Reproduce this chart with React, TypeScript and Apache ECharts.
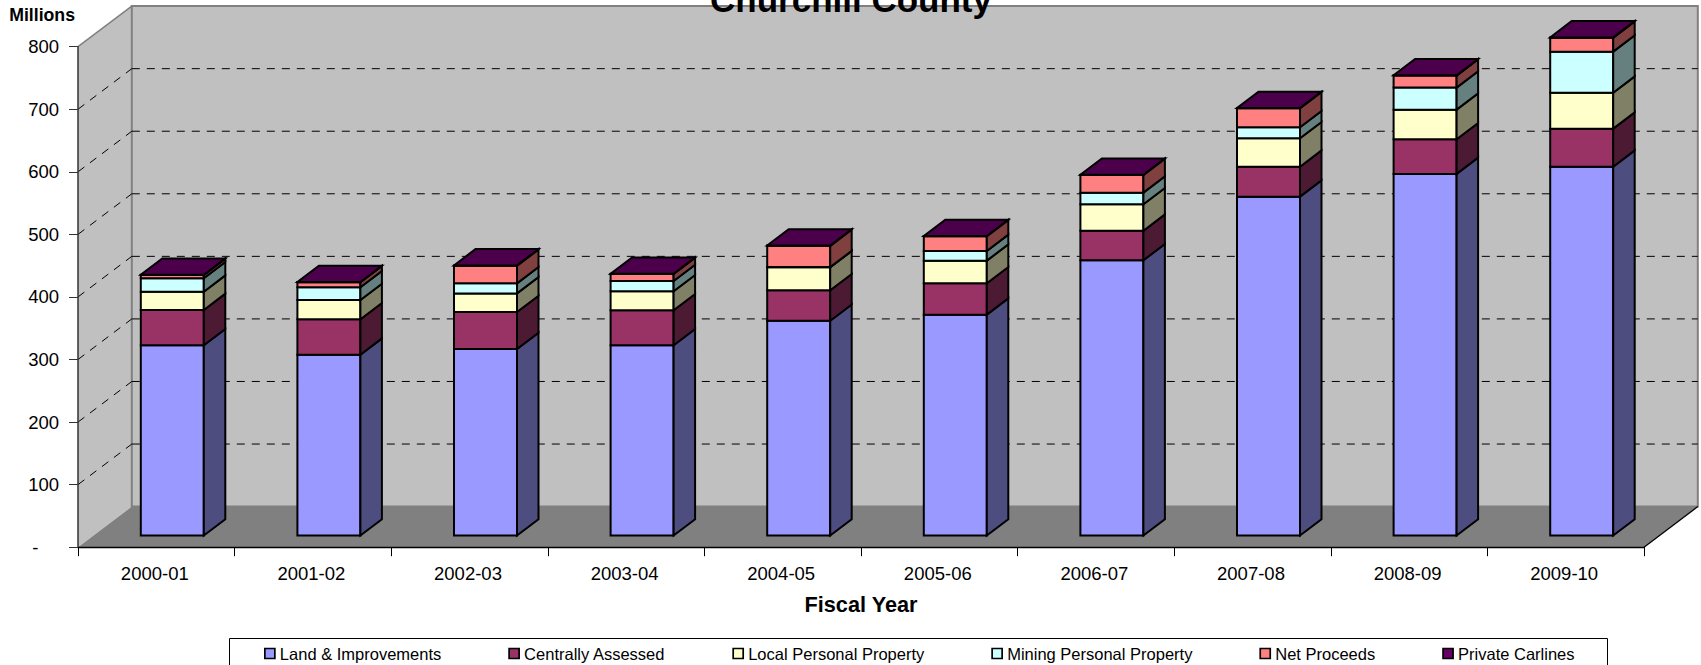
import React, { useEffect, useRef } from "react";
import * as echarts from "echarts";

const categories = ["2000-01","2001-02","2002-03","2003-04","2004-05","2005-06","2006-07","2007-08","2008-09","2009-10"];
const landImprovements = [304, 289, 298, 304, 343.3, 353, 440, 541.6, 578, 589.5];
const centrallyAssessed = [56.5, 56.6, 59.2, 56, 48.7, 50.1, 47.2, 47.9, 55.4, 60.8];
const localPersonal = [29.2, 30.8, 29.8, 30.3, 36.7, 36.2, 42.2, 45.4, 47.3, 57.5];
const miningPersonal = [21.4, 20.3, 16, 16.5, 0.3, 15.5, 18.6, 17.6, 35.2, 65.6];
const netProceeds = [5.3, 8, 28.2, 11.2, 34, 23.5, 28.2, 30.4, 19.2, 22.3];
const privateCarlines = [0.5, 0.5, 0.5, 0.5, 0.5, 0.5, 0.5, 0.5, 0.5, 0.5];
const yTicks = [0, 100, 200, 300, 400, 500, 600, 700, 800];

const seriesDefs = [
  { name: "Land & Improvements", values: landImprovements, color: "#9999FF", side: "#4D4D80", top: "#7373BF" },
  { name: "Centrally Assessed", values: centrallyAssessed, color: "#993366", side: "#4D1A33", top: "#73264C" },
  { name: "Local Personal Property", values: localPersonal, color: "#FFFFCC", side: "#808066", top: "#BFBF99" },
  { name: "Mining Personal Property", values: miningPersonal, color: "#CCFFFF", side: "#668080", top: "#99BFBF" },
  { name: "Net Proceeds", values: netProceeds, color: "#FF8080", side: "#804040", top: "#BF6060" },
  { name: "Private Carlines", values: privateCarlines, color: "#660066", side: "#330033", top: "#4C004C" },
];

const FONT = "'Liberation Sans', Arial, sans-serif";
const WALL_DX = 53.8;
const WALL_DY = 40.6;
const BAR_DX = 16;
const BAR_DY = 11.7;
const BAR_W = 63;
const DEPTH_X = 21.5;
const DEPTH_Y = 16.3;
const EDGE = 2;

export default function App() {
  const ref = useRef<HTMLDivElement>(null);
  useEffect(() => {
    document.body.style.margin = "0";
    document.body.style.overflow = "hidden";
    const chart = echarts.init(ref.current!, null, { renderer: "svg" });

    const background = {
      type: "custom",
      silent: true,
      z: 1,
      clip: false,
      data: [[0, 0]],
      encode: { x: 0, y: 1 },
      renderItem: (params: any, api: any) => {
        const cs = params.coordSys;
        const x0 = cs.x, x1 = cs.x + cs.width, y0 = cs.y + cs.height, yT = cs.y;
        const children: any[] = [
          { type: "polygon", shape: { points: [[x0, yT], [x0 + WALL_DX, yT - WALL_DY], [x0 + WALL_DX, y0 - WALL_DY], [x0, y0]] },
            style: { fill: "#C0C0C0", stroke: "none" } },
          { type: "line", shape: { x1: x0, y1: yT, x2: x0 + WALL_DX, y2: yT - WALL_DY }, style: { stroke: "#808080", lineWidth: 1.5 } },
          { type: "rect", shape: { x: x0 + WALL_DX, y: yT - WALL_DY, width: cs.width, height: cs.height },
            style: { fill: "#C0C0C0", stroke: "#808080", lineWidth: 2 } },
          { type: "polygon", shape: { points: [[x0, y0], [x1, y0], [x1 + WALL_DX, y0 - WALL_DY], [x0 + WALL_DX, y0 - WALL_DY]] },
            style: { fill: "#808080", stroke: "none" } },
          { type: "line", shape: { x1: x1, y1: y0, x2: x1 + WALL_DX, y2: y0 - WALL_DY }, style: { stroke: "#000", lineWidth: 1.3 } },
        ];
        yTicks.filter((v) => v > 0 && v < 800).forEach((v) => {
          const y = api.coord([0, v])[1];
          const dash = { stroke: "#000", lineWidth: 1, lineDash: [8, 7] };
          children.push({ type: "line", shape: { x1: x0, y1: y, x2: x0 + WALL_DX, y2: y - WALL_DY }, style: dash });
          children.push({ type: "line", shape: { x1: x0 + WALL_DX, y1: y - WALL_DY, x2: x1 + WALL_DX, y2: y - WALL_DY }, style: dash });
        });
        return { type: "group", children };
      },
    };

    const running = categories.map(() => 0);
    const barSeries = seriesDefs.map((def, sIdx) => {
      const data = def.values.map((v, i) => {
        const base = running[i];
        running[i] = base + v;
        return [i, base, running[i]];
      });
      const isLast = sIdx === seriesDefs.length - 1;
      return {
        type: "custom",
        name: def.name,
        z: 2,
        clip: false,
        itemStyle: { color: def.color },
        data,
        encode: { x: 0, y: 2 },
        renderItem: (_p: any, api: any) => {
          const i = api.value(0);
          const a = api.coord([i, api.value(1)]);
          const b = api.coord([i, api.value(2)]);
          const xL = a[0] + BAR_DX - BAR_W / 2;
          const xR = xL + BAR_W;
          const yB = a[1] - BAR_DY;
          const yT = b[1] - BAR_DY;
          const st = (fill: string) => ({ fill, stroke: "#000", lineWidth: EDGE, lineJoin: "miter" });
          const children: any[] = [
            { type: "polygon", shape: { points: [[xL, yB], [xR, yB], [xR, yT], [xL, yT]] }, style: st(def.color) },
            { type: "polygon", shape: { points: [[xR, yB], [xR + DEPTH_X, yB - DEPTH_Y], [xR + DEPTH_X, yT - DEPTH_Y], [xR, yT]] }, style: st(def.side) },
          ];
          if (isLast) {
            children.push({ type: "polygon", shape: { points: [[xL, yT], [xR, yT], [xR + DEPTH_X, yT - DEPTH_Y], [xL + DEPTH_X, yT - DEPTH_Y]] }, style: st(def.top) });
          }
          return { type: "group", children };
        },
      };
    });

    chart.setOption({
      animation: false,
      backgroundColor: "#FFFFFF",
      title: {
        text: "Churchill County",
        left: 846,
        top: -23,
        textAlign: "center",
        z: 8,
        textStyle: { fontFamily: FONT, fontSize: 35, fontWeight: "bold", color: "#000" },
      },
      grid: { left: 78, top: 46.7, width: 1566, height: 500.5, containLabel: false },
      legend: {
        data: seriesDefs.map((d) => d.name),
        left: 264,
        top: 645,
        itemGap: 67,
        itemWidth: 10,
        itemHeight: 10,
        padding: 0,
        icon: "rect",
        selectedMode: false,
        itemStyle: { borderColor: "#000", borderWidth: 1.7 },
        textStyle: { fontFamily: FONT, fontSize: 16.5, color: "#000" },
      },
      graphic: [
        { type: "rect", z: 0, silent: true, shape: { x: 229.5, y: 638.5, width: 1378, height: 60 }, style: { fill: "none", stroke: "#000", lineWidth: 1 } },
      ],
      xAxis: {
        type: "category",
        data: categories,
        z: 5,
        name: "Fiscal Year",
        nameLocation: "middle",
        nameGap: 46,
        nameTextStyle: { fontFamily: FONT, fontSize: 21.7, fontWeight: "bold", color: "#000" },
        axisLine: { lineStyle: { color: "#000", width: 1.3 } },
        axisTick: { show: true, length: 9, alignWithLabel: false, lineStyle: { color: "#000", width: 1 } },
        axisLabel: { interval: 0, margin: 17, padding: [0, 3, 0, 0], fontFamily: FONT, fontSize: 18.5, color: "#000" },
        splitLine: { show: false },
      },
      yAxis: {
        type: "value",
        min: 0,
        max: 800,
        interval: 100,
        z: 5,
        name: "Millions",
        nameLocation: "end",
        nameGap: 23,
        nameTextStyle: { fontFamily: FONT, fontSize: 17.7, fontWeight: "bold", color: "#000", align: "right", padding: [0, 3, 0, 0] },
        axisLine: { show: true, lineStyle: { color: "#333", width: 1.5 } },
        axisTick: { show: true, length: 9, lineStyle: { color: "#333", width: 1 } },
        axisLabel: {
          margin: 19,
          fontFamily: FONT,
          fontSize: 18.5,
          color: "#000",
          formatter: (v: number) => (v === 0 ? "-\u00a0\u00a0\u00a0\u00a0" : String(v)),
        },
        splitLine: { show: false },
      },
      series: [background, ...barSeries],
    });
    return () => chart.dispose();
  }, []);
  return <div ref={ref} style={{ width: 1701, height: 665 }} />;
}
